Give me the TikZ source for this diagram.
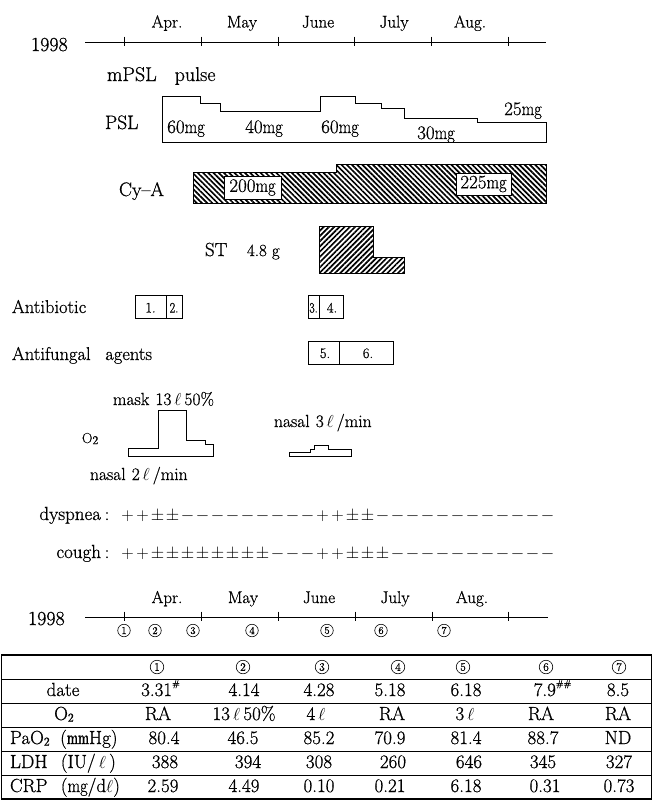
\documentclass[tikz,border=0pt]{standalone}
\usepackage{fontspec}
\usepackage{graphicx}
\setmainfont{Latin Modern Roman}[FakeBold=0.7]
\usetikzlibrary{patterns.meta}
\newcommand\fsz[1]{\fontsize{#1}{#1}\selectfont}
\newcommand\MG{\scalebox{0.86}[1]{mg}}
\newcommand\MMb{\scalebox{0.62}[1]{\bfseries mm}}
\newcommand\Lt{$\ell$}
\newcommand\subtwo{\raisebox{-0.08em}{\fsz{12}2}}
\newcommand\hsh[1]{\raisebox{0.5em}{\fsz{9}#1}}
\tikzset{
  txt/.style={inner sep=0pt, outer sep=0pt},
  big/.style={txt, font=\fsz{20}},
  lab/.style={txt, font=\fsz{19.5}, anchor=base west},
  labs/.style={txt, font=\fsz{18.5}, anchor=base west},
  mon/.style={txt, font=\fsz{17}, anchor=base},
  dose/.style={txt, font=\fsz{19}, anchor=base},
  valbox/.style={draw, fill=white, inner sep=0pt, font=\fsz{19}},
  boxn/.style={txt, font=\fsz{14.5}, anchor=base},
  sym/.style={txt, font=\fsz{18}, anchor=base},
  circ/.style={circle, draw, line width=0.6pt, inner sep=0pt, minimum size=12.5, font=\fsz{10.5}},
  hcirc/.style={circle, draw, line width=0.6pt, inner sep=0pt, minimum size=13.5, font=\fsz{11.5}},
  cell/.style={txt, font=\fsz{19}, anchor=base},
  cyhatch/.style={pattern={Lines[angle=-45,distance=3.7pt,line width=1.7pt]}},
  sthatch/.style={pattern={Lines[angle=45,distance=3.7pt,line width=1.7pt]}},
}
\begin{document}
\begin{tikzpicture}[x=1pt,y=-1pt,line width=0.9pt]
\useasboundingbox (0,0) rectangle (653,807);

% ---------- top timeline
\node[big,anchor=base west] (yr1) at (31,51) {1998};
\coordinate (t1a) at (85,42);
\coordinate (t1b) at (546,42);
\draw (t1a) -- (t1b);
\foreach \x in {124,201,278,354,431,508} \draw (\x,36.5) -- (\x,45.5);
\foreach \m/\x [count=\i] in {Apr./167,May/242,June/318,July/394,Aug./470}
  \node[mon] (tm\i) at (\x,27.5) {\m};

% ---------- mPSL / PSL
\node[lab,font=\fsz{20}] (mpsl) at (107,81) {mPSL\hspace{0.9em}pulse};
\node[lab] (psl) at (105,129) {PSL};
\draw (162,142) -- (162,96) -- (200,96) -- (200,103) -- (220,103) -- (220,111)
  -- (320,111) -- (320,96) -- (355,96) -- (355,103) -- (381,103) -- (381,108)
  -- (404,108) -- (404,118) -- (477,118) -- (477,122) -- (546,122) -- (546,142) -- cycle;
\node[dose] (p60a) at (186,133) {60\MG};
\node[dose] (p40) at (264,133) {40\MG};
\node[dose] (p60b) at (340,133) {60\MG};
\node[dose] (p30) at (436,139) {30\MG};
\node[dose] (p25) at (523,115) {25\MG};

% ---------- Cy-A
\node[lab] (cya) at (119,196) {Cy\textendash A};
\draw[cyhatch] (193,203) -- (193,172) -- (336,172) -- (336,164) -- (546,164) -- (546,203) -- cycle;
\node[valbox,minimum width=57,minimum height=23] (c200) at (252.5,187.5) {200\MG};
\node[valbox,minimum width=55,minimum height=22] (c225) at (483.5,184) {225\MG};

% ---------- ST
\node[lab,font=\fsz{19}] (st) at (205,256) {ST};
\node[txt,font=\fsz{17},anchor=base west] (st48) at (247,256) {4.8\hspace{0.3em}g};
\draw[sthatch] (319,226) -- (373,226) -- (373,257) -- (404,257) -- (404,273) -- (319,273) -- cycle;

% ---------- Antibiotic / Antifungal
\node[labs] (abx) at (12,313) {Antibiotic};
\draw (135,295) rectangle (182,318);
\draw (166,295) -- (166,318);
\node[boxn] (a1) at (150.5,312.5) {1.};
\node[boxn] (a2) at (174,312.5) {\scalebox{0.85}[1]{2.}};
\draw (308,295) rectangle (343,318);
\draw (319,295) -- (319,318);
\node[boxn] (a3) at (313.5,312.5) {\scalebox{0.8}[1]{3.}};
\node[boxn] (a4) at (332,312.5) {4.};
\node[labs] (afg) at (12,360) {Antifungal\hspace{0.8em}agents};
\draw (308,341) rectangle (393,364);
\draw (339,341) -- (339,364);
\node[boxn] (a5) at (325,358) {5.};
\node[boxn] (a6) at (368,358) {6.};

% ---------- O2
\node[txt,font=\fsz{17.5},anchor=base west] (mask) at (113,405) {mask\hspace{0.35em}13\,\Lt\,50\%};
\node[txt,font=\fsz{14.5},anchor=base west] (o2) at (82,443) {O\subtwo};
\node[txt,font=\fsz{17.5},anchor=base west] (n2) at (90,480) {nasal\hspace{0.35em}2\,\Lt\,/min};
\node[txt,font=\fsz{17.5},anchor=base west] (n3) at (274,427) {nasal\hspace{0.35em}3\,\Lt\,/min};
\draw (128,456) -- (128,448) -- (158,448) -- (158,410) -- (186,410) -- (186,440)
  -- (205,440) -- (205,444) -- (213,444) -- (213,456) -- cycle;
\draw (289,456) -- (289,452) -- (310,452) -- (310,449) -- (314,449) -- (314,445)
  -- (328,445) -- (328,449) -- (351,449) -- (351,456) -- cycle;

% ---------- symptoms
\node[txt,font=\fsz{19},anchor=base east] (dys) at (101,520) {dyspnea};
\node[sym] (dysc) at (107,520) {:};
\foreach \s [count=\k from 0] in {+,+,\pm,\pm,-,-,-,-,-,-,-,-,-,+,+,\pm,\pm,-,-,-,-,-,-,-,-,-,-,-,-}
  \node[sym] (d\k) at ({127.5+15*\k},520) {$\s$};
\node[txt,font=\fsz{19},anchor=base east] (cgh) at (101,558) {cough};
\node[sym] (cghc) at (107,558) {:};
\foreach \s [count=\k from 0] in {+,+,\pm,\pm,\pm,\pm,\pm,\pm,\pm,\pm,-,-,-,+,+,\pm,\pm,\pm,-,-,-,-,-,-,-,-,-,-,-}
  \node[sym] (c\k) at ({127.5+15*\k},558) {$\s$};

% ---------- bottom timeline
\node[big,anchor=base west] (yr2) at (28,625) {1998};
\coordinate (t2a) at (85,617);
\coordinate (t2b) at (548,617);
\draw (t2a) -- (t2b);
\foreach \x in {124,201,278,355,432,508.5} \draw (\x,611.5) -- (\x,620.5);
\foreach \m/\x [count=\i] in {Apr./167,May/243,June/319,July/395,Aug./472}
  \node[mon] (bm\i) at (\x,603) {\m};
\foreach \x [count=\i] in {124,155,193,252,327,381,444}
  \node[circ] (bc\i) at (\x,630.5) {\i};

% ---------- table
\draw[line width=1.3pt] (1.5,655) rectangle (651.5,799);
\foreach \yy in {679,703,727,751,775} \draw (1.5,\yy) -- (651.5,\yy);
\foreach \x [count=\i] in {157,243,322,398,463,546,619}
  \node[hcirc] (h\i) at (\x,667) {\i};
\node[cell] (rdate) at (63,696) {date};
\node[cell] (ro2) at (64,720) {O\subtwo};
\node[cell,anchor=base west] (rpao) at (10,744) {PaO\subtwo\hspace{0.55em}(\MMb Hg)};
\node[cell,anchor=base west] (rldh) at (10,768) {LDH\hspace{0.7em}(IU/\,\Lt\,)};
\node[cell,anchor=base west] (rcrp) at (10,792) {CRP\hspace{0.7em}(\MG/d\Lt)};
% date
\node[cell] (v11) at (160.5,696) {3.31\hsh{\#}};
\node[cell] (v12) at (244,696) {4.14};
\node[cell] (v13) at (319,696) {4.28};
\node[cell] (v14) at (390,696) {5.18};
\node[cell] (v15) at (466,696) {6.18};
\node[cell] (v16) at (552.5,696) {7.9\hsh{\#\#}};
\node[cell] (v17) at (618,696) {8.5};
% O2
\node[cell] (v21) at (158,720) {RA};
\node[cell] (v22) at (244,720) {13\,\Lt\,50\%};
\node[cell] (v23) at (316,720) {4\,\Lt};
\node[cell] (v24) at (392,720) {RA};
\node[cell] (v25) at (465,720) {3\,\Lt};
\node[cell] (v26) at (541,720) {RA};
\node[cell] (v27) at (618,720) {RA};
% PaO2
\node[cell] (v31) at (164,744) {80.4};
\node[cell] (v32) at (243,744) {46.5};
\node[cell] (v33) at (319,744) {85.2};
\node[cell] (v34) at (390,744) {70.9};
\node[cell] (v35) at (466,744) {81.4};
\node[cell] (v36) at (543,744) {88.7};
\node[cell] (v37) at (618,744) {ND};
% LDH
\node[cell] (v41) at (165,768) {388};
\node[cell] (v42) at (248,768) {394};
\node[cell] (v43) at (319,768) {308};
\node[cell] (v44) at (393,768) {260};
\node[cell] (v45) at (469,768) {646};
\node[cell] (v46) at (543,768) {345};
\node[cell] (v47) at (619,768) {327};
% CRP
\node[cell] (v51) at (163,792) {2.59};
\node[cell] (v52) at (244,792) {4.49};
\node[cell] (v53) at (319,792) {0.10};
\node[cell] (v54) at (390,792) {0.21};
\node[cell] (v55) at (466,792) {6.18};
\node[cell] (v56) at (545,792) {0.31};
\node[cell] (v57) at (619,792) {0.73};
\end{tikzpicture}
\end{document}
